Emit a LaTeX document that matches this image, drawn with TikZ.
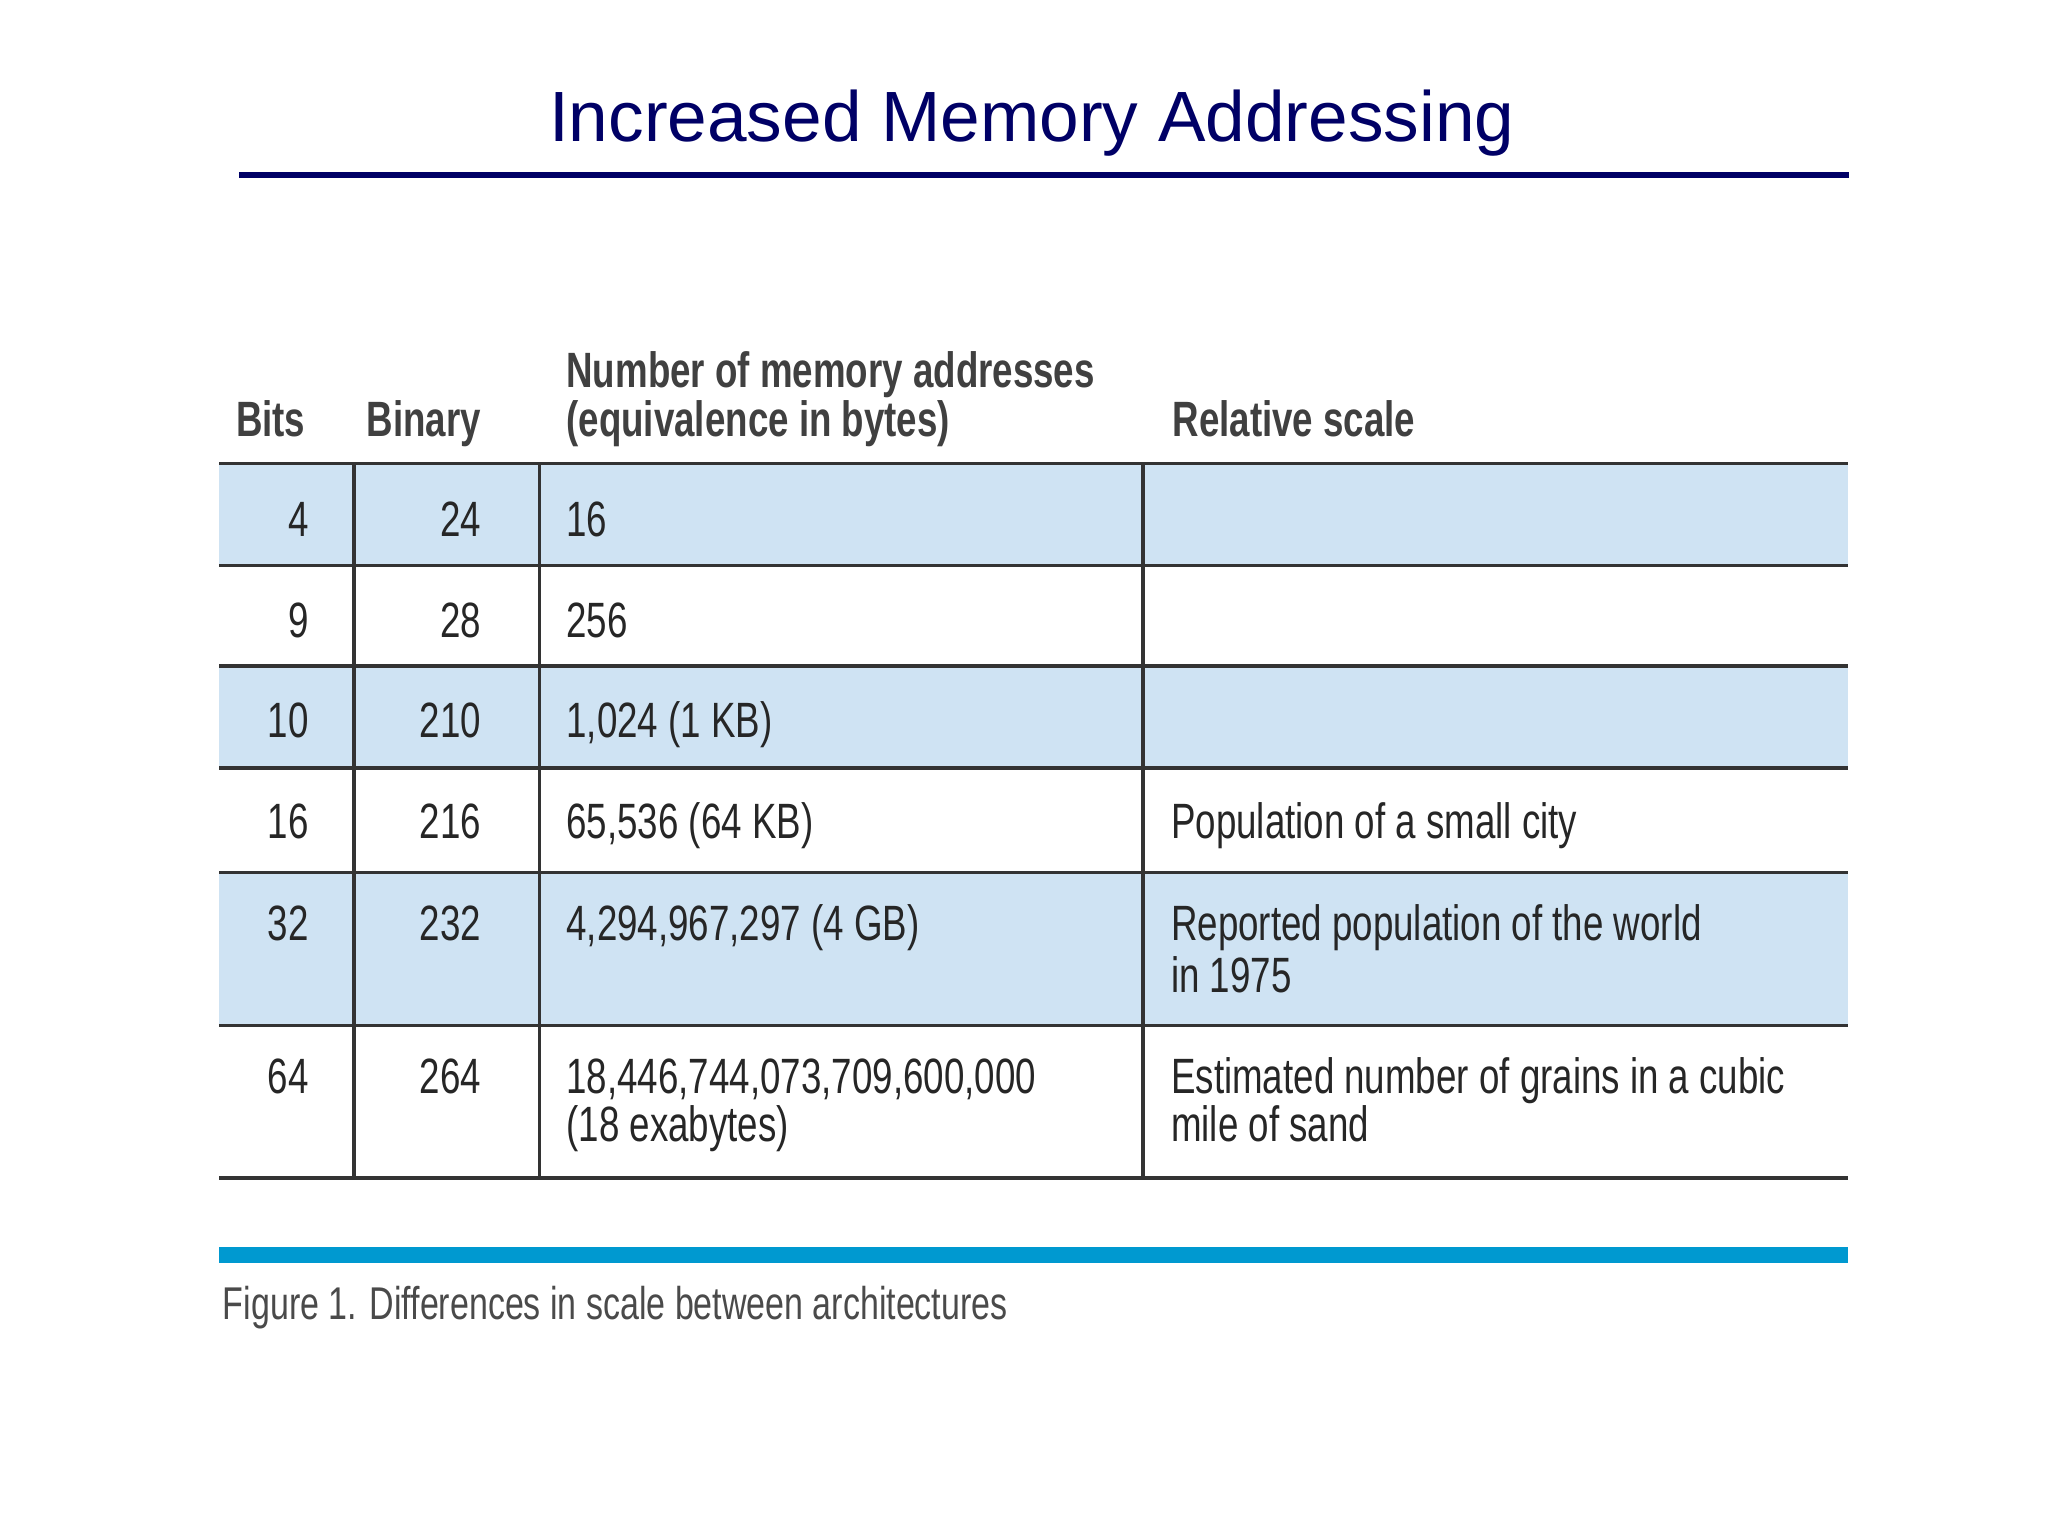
\documentclass[tikz,border=0pt]{standalone}
\usepackage{fontspec}
\setmainfont{Liberation Sans}
\newfontfamily\cond[FakeStretch=0.74]{Liberation Sans}
\definecolor{navy}{HTML}{000066}
\definecolor{rowblue}{HTML}{CFE3F3}
\definecolor{barblue}{HTML}{0099D0}
\definecolor{grid}{HTML}{333333}
\definecolor{capgray}{HTML}{4A4A4A}
\begin{document}
\begin{tikzpicture}[x=0.01cm,y=-0.01cm,
  cell/.style={inner sep=0pt,font=\cond\fontsize{10.8}{12}\selectfont,text=black!85},
  hdr/.style={cell,font=\cond\bfseries\fontsize{10.8}{12}\selectfont,text=black!75},
  gl/.style={grid,line width=0.75pt}]
\useasboundingbox (0,0) rectangle (1568,1176);
\node[inner sep=0pt,anchor=base,text=navy,font=\fontsize{15.5}{18}\selectfont] (title) at (790,108) {Increased Memory Addressing};
\draw[navy,line width=1.5pt] (183,134) -- (1416,134);
% shaded rows
\fill[rowblue] (168,355) rectangle (1415,433);
\fill[rowblue] (168,510) rectangle (1415,588);
\fill[rowblue] (168,668) rectangle (1415,785);
% grid
\foreach \y in {355,433,510,588,668,785,902} \draw[gl] (168,\y) -- (1415,\y);
\foreach \x in {271,413,875} \draw[gl] (\x,355) -- (\x,902);
% header
\node[hdr,anchor=base west] (h1) at (180,334) {Bits};
\node[hdr,anchor=base west] (h2) at (280,334) {Binary};
\node[hdr,anchor=base west] (h3a) at (433,297) {Number of memory addresses};
\node[hdr,anchor=base west] (h3b) at (433,334) {(equivalence in bytes)};
\node[hdr,anchor=base west] (h4) at (897,334) {Relative scale};
% rows
\foreach \b/\bin/\n/\yy [count=\i] in {4/24/16/411, 9/28/256/488, 10/210/{1,024 (1 KB)}/565, 16/216/{65,536 (64 KB)}/642, 32/232/{4,294,967,297 (4 GB)}/720, 64/264/{18,446,744,073,709,600,000}/837}{
  \node[cell,anchor=base east] (b\i) at (237,\yy) {\b};
  \node[cell,anchor=base east] (bin\i) at (369,\yy) {\bin};
  \node[cell,anchor=base west] (n\i) at (433,\yy) {\n};
}
\node[cell,anchor=base west] (n6b) at (433,874) {(18 exabytes)};
\node[cell,anchor=base west] (r4) at (896,642) {Population of a small city};
\node[cell,anchor=base west] (r5a) at (896,720) {Reported population of the world};
\node[cell,anchor=base west] (r5b) at (896,760) {in 1975};
\node[cell,anchor=base west] (r6a) at (896,837) {Estimated number of grains in a cubic};
\node[cell,anchor=base west] (r6b) at (896,874) {mile of sand};
\fill[barblue] (168,955) rectangle (1415,967);
\node[inner sep=0pt,anchor=base west,text=capgray,font=\cond\fontsize{10}{12}\selectfont] (cap) at (170,1010) {Figure 1. Differences in scale between architectures};
\end{tikzpicture}
\end{document}
